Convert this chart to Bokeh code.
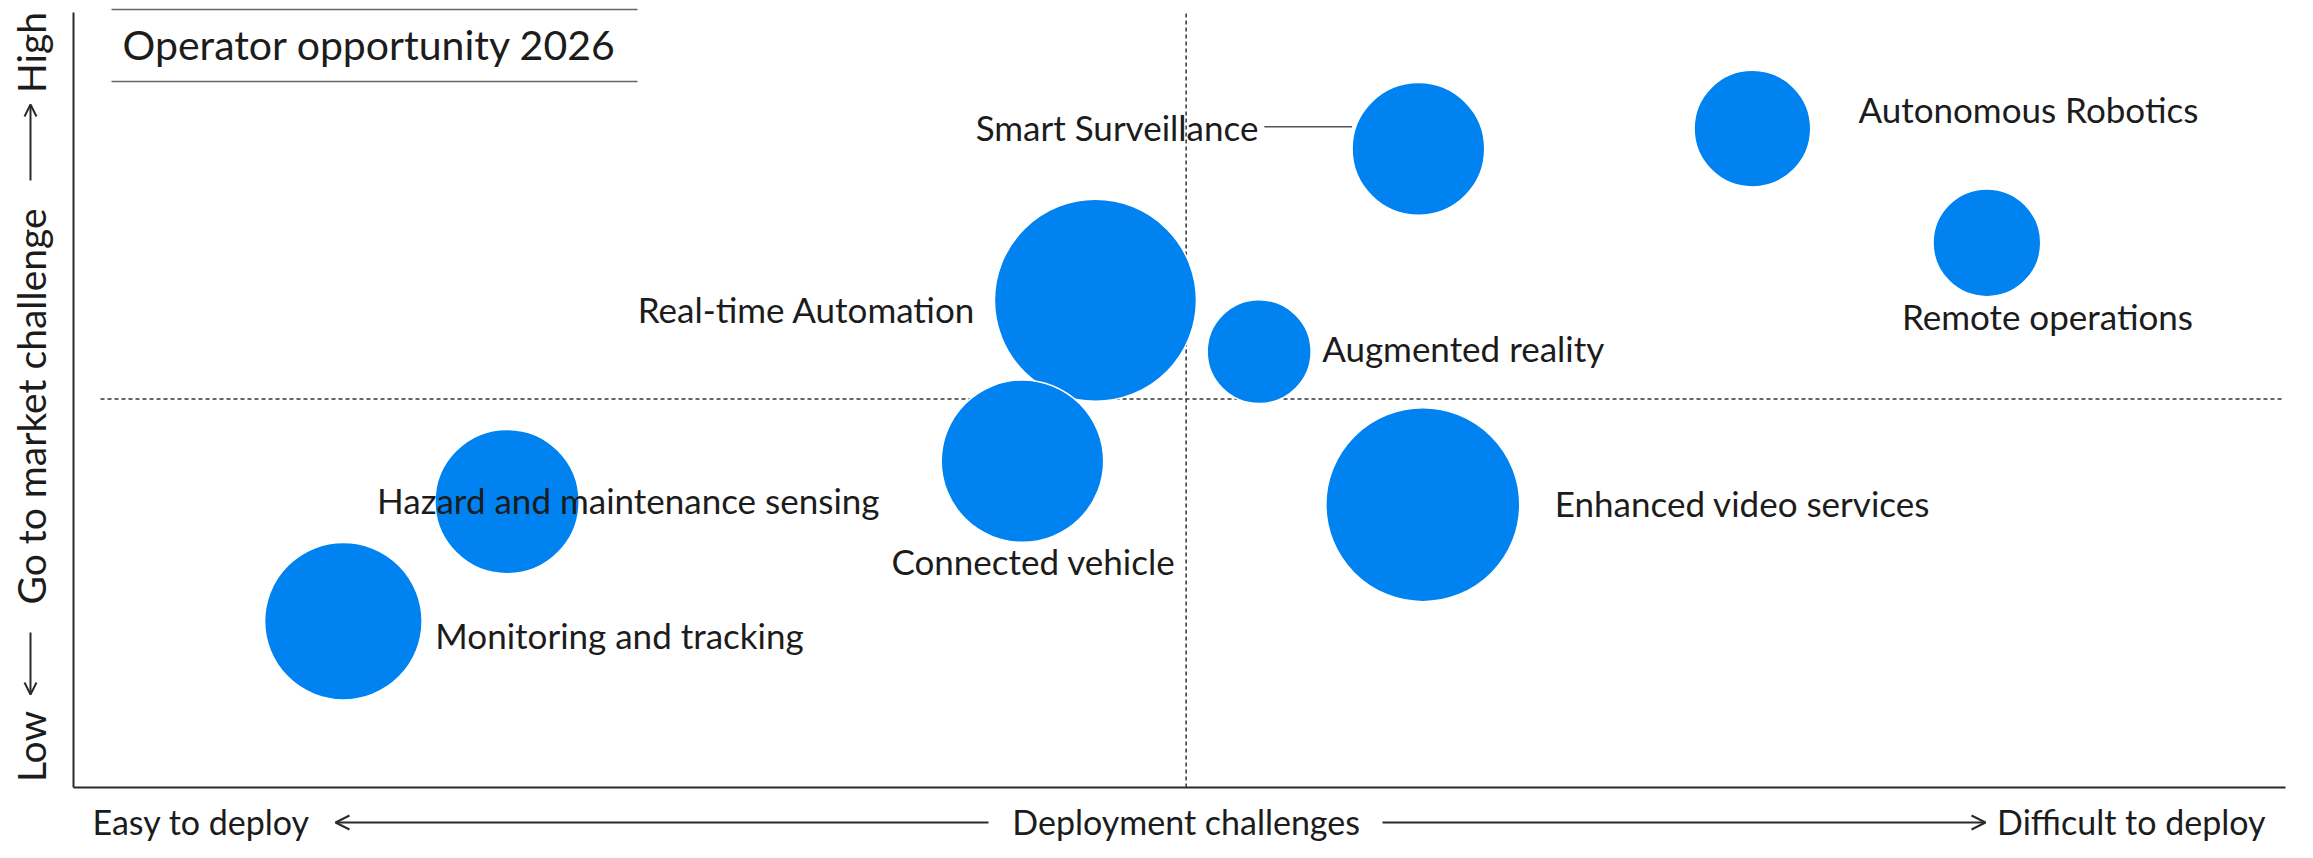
import math
from bokeh.plotting import figure
from bokeh.models import Arrow, OpenHead, Range1d, ColumnDataSource
from bokeh.core.properties import value
from bokeh.embed import file_html
from bokeh.resources import INLINE

# ---------------- data ----------------
use_cases = ["Smart Surveillance", "Autonomous Robotics", "Remote operations",
             "Real-time Automation", "Augmented reality", "Connected vehicle",
             "Enhanced video services", "Hazard and maintenance sensing",
             "Monitoring and tracking"]
deployment_challenge = [6.08, 7.59, 8.65, 4.62, 5.36, 4.29, 6.10, 1.96, 1.22]
go_to_market_challenge = [8.22, 8.48, 7.01, 6.27, 5.61, 4.20, 3.64, 3.68, 2.14]
opportunity = [44, 34, 29, 102, 27, 66, 94, 52, 62]
x_divider = 5.03
y_divider = 5.0
title_text = "Operator opportunity 2026"
x_labels = ["Easy to deploy", "Deployment challenges", "Difficult to deploy"]
y_labels = ["Low", "Go to market challenge", "High"]

# ---------------- layout / style ----------------
W, H = 2297, 842
AX_L, AX_R, AX_B, AX_T = 73, 2285, 787, 10     # pixel box of the 0..10 data square
PXX = (AX_R - AX_L) / 10.0
PXY = (AX_B - AX_T) / 10.0


def X(px):
    return (px - AX_L) / PXX


def Y(py):
    return (AX_B - py) / PXY


FONT = "Lato"
BLUE = "#0082F0"
INK = "#1c1c1c"
LINE = "#2a2a2a"

# label placement: (align, dx px, dy px; dy positive = down)
label_layout = [("right", -160, -22), ("left", 106, -20), ("left", -85, 73),
                ("right", -120, 9), ("left", 63, -4), ("center", 11, 100),
                ("left", 132, -2), ("left", -130, -2), ("left", 92, 14)]

diam = [2 * 10 * math.sqrt(v) for v in opportunity]

p = figure(width=W, height=H, x_range=Range1d(X(0), X(W)), y_range=Range1d(Y(H), Y(0)),
           output_backend="svg", toolbar_location=None,
           x_axis_location=None, y_axis_location=None, min_border=0)
p.outline_line_color = None
p.grid.visible = False

# axes lines
p.segment(x0=[0, 0], y0=[0, 0], x1=[10, 0], y1=[0, Y(12)], line_color=LINE, line_width=2)

# dividers
p.segment(x0=[x_divider], y0=[0], x1=[x_divider], y1=[Y(12)], line_color="#333333",
          line_width=1.5, line_dash="4 3")
p.segment(x0=[X(100)], y0=[y_divider], x1=[X(2282)], y1=[y_divider], line_color="#333333",
          line_width=1.5, line_dash="4 3")

# bubbles
src = ColumnDataSource(dict(x=deployment_challenge, y=go_to_market_challenge, size=diam,
                            name=use_cases))
p.scatter(x="x", y="y", size="size", source=src, fill_color=BLUE, line_color="white",
          line_width=1.5)

# leader line for Smart Surveillance
i0 = 0
p.segment(x0=[deployment_challenge[i0] - 154 / PXX], y0=[go_to_market_challenge[i0] + 22 / PXY],
          x1=[deployment_challenge[i0] - diam[i0] / 2 / PXX], y1=[go_to_market_challenge[i0] + 22 / PXY],
          line_color="#555555", line_width=1.5)

# bubble labels
for align in ("left", "right", "center"):
    idx = [i for i, l in enumerate(label_layout) if l[0] == align]
    p.text(x=[deployment_challenge[i] for i in idx], y=[go_to_market_challenge[i] for i in idx],
           text=[use_cases[i] for i in idx],
           x_offset=[label_layout[i][1] for i in idx], y_offset=[label_layout[i][2] for i in idx],
           text_align=align, text_baseline="middle", text_font=value(FONT),
           text_font_size="35px", text_color=INK)

# title box
p.segment(x0=[X(111), X(111)], y0=[Y(9), Y(81)], x1=[X(637), X(637)], y1=[Y(9), Y(81)],
          line_color="#666666", line_width=1.5)
p.text(x=[X(122)], y=[Y(44)], text=[title_text], text_font=value(FONT), text_font_size="41px",
       text_color=INK, text_baseline="middle", text_align="left")

# x axis labels + arrows
yb = Y(821)
p.text(x=[X(92)], y=[yb], text=[x_labels[0]], text_font=value(FONT), text_font_size="34px",
       text_color=INK, text_baseline="middle", text_align="left")
p.text(x=[x_divider], y=[yb], text=[x_labels[1]], text_font=value(FONT), text_font_size="34px",
       text_color=INK, text_baseline="middle", text_align="center")
p.text(x=[X(2265)], y=[yb], text=[x_labels[2]], text_font=value(FONT), text_font_size="34px",
       text_color=INK, text_baseline="middle", text_align="right")
ya = Y(822)
p.add_layout(Arrow(x_start=X(988), y_start=ya, x_end=X(335), y_end=ya, start=None,
                   end=OpenHead(size=14, line_width=2, line_color=LINE),
                   line_width=2, line_color=LINE))
p.add_layout(Arrow(x_start=X(1382), y_start=ya, x_end=X(1985), y_end=ya, start=None,
                   end=OpenHead(size=14, line_width=2, line_color=LINE),
                   line_width=2, line_color=LINE))

# y axis labels + arrows (rotated)
xl = X(30)
for txt, cy in zip(y_labels, (746, 406, 52)):
    p.text(x=[xl], y=[Y(cy)], text=[txt], text_font=value(FONT), text_font_size="39px",
           text_color=INK, text_baseline="middle", text_align="center", angle=math.pi / 2)
p.add_layout(Arrow(x_start=xl, y_start=Y(632), x_end=xl, y_end=Y(694), start=None,
                   end=OpenHead(size=12, line_width=2, line_color=LINE),
                   line_width=2, line_color=LINE))
p.add_layout(Arrow(x_start=xl, y_start=Y(180), x_end=xl, y_end=Y(104), start=None,
                   end=OpenHead(size=12, line_width=2, line_color=LINE),
                   line_width=2, line_color=LINE))

open("out.html", "w").write(file_html(p, INLINE))
